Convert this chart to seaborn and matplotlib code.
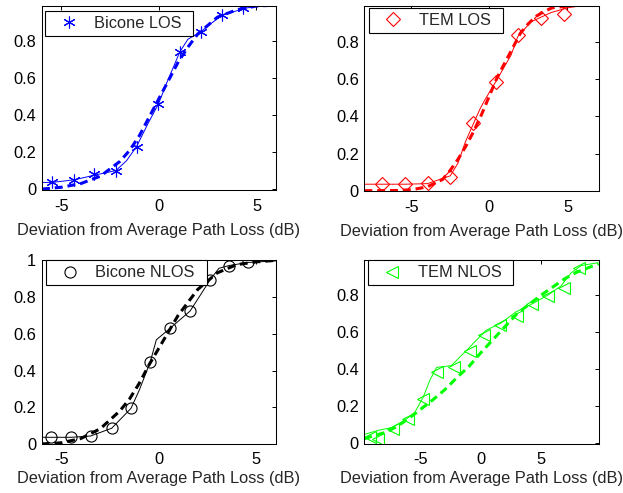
import matplotlib
matplotlib.use("Agg")
import matplotlib.pyplot as plt
import seaborn as sns
from matplotlib.ticker import FormatStrFormatter

# Bicone LOS
bl_line_x = [-6, -5.49, -4.35, -3.32, -2.21, -1.66, -1.15, -0.82, -0.56, -0.03, 0.38, 1.06, 1.48, 2.14, 2.6, 3.23, 4.32, 5, 6]
bl_line_y = [0.036, 0.036, 0.05, 0.075, 0.1, 0.154, 0.23, 0.30, 0.355, 0.46, 0.57, 0.74, 0.81, 0.85, 0.89, 0.94, 0.975, 0.99, 0.99]
bl_mark_x = [-5.49, -4.35, -3.32, -2.21, -1.15, -0.03, 1.06, 2.14, 3.23, 4.32]
bl_mark_y = [0.04, 0.05, 0.08, 0.10, 0.23, 0.46, 0.74, 0.85, 0.94, 0.98]
bl_fit_x = [-6, -5, -4, -3, -2, -1.5, -1, -0.5, 0, 0.5, 1, 1.5, 2, 3, 4, 5, 6]
bl_fit_y = [0.0, 0.01, 0.03, 0.07, 0.15, 0.21, 0.29, 0.39, 0.49, 0.59, 0.69, 0.77, 0.84, 0.93, 0.97, 0.99, 0.995]

# TEM LOS
tl_line_x = [-8, -6.9, -5.38, -3.95, -3.2, -2.5, -2.0, -1.56, -1.13, -0.6, -0.28, 0.43, 1.39, 1.82, 2.67, 3.31, 3.96, 5.0, 5.9, 7]
tl_line_y = [0.035, 0.035, 0.035, 0.038, 0.06, 0.08, 0.15, 0.257, 0.34, 0.44, 0.49, 0.59, 0.73, 0.83, 0.91, 0.935, 0.96, 0.985, 0.998, 1.0]
tl_mark_x = [-6.9, -5.38, -3.95, -2.5, -1.04, 0.45, 1.82, 3.31, 4.81]
tl_mark_y = [0.038, 0.038, 0.04, 0.076, 0.366, 0.586, 0.84, 0.93, 0.953]
tl_fit_x = [-8, -6, -5, -4, -3, -2.5, -2, -1.5, -1, -0.5, 0, 0.5, 1, 1.5, 2, 2.5, 3, 3.5, 4, 5, 6, 7]
tl_fit_y = [0.0, 0.001, 0.005, 0.02, 0.06, 0.11, 0.17, 0.24, 0.32, 0.41, 0.51, 0.61, 0.69, 0.77, 0.85, 0.9, 0.94, 0.965, 0.985, 0.995, 1.0, 1.0]

# Bicone NLOS
bn_line_x = [-6, -5.5, -4.5, -3.49, -2.41, -1.42, -0.99, -0.43, -0.12, 0.59, 1.61, 2.14, 2.62, 3.09, 3.61, 4.6, 6]
bn_line_y = [0.038, 0.038, 0.038, 0.045, 0.087, 0.195, 0.295, 0.448, 0.567, 0.63, 0.723, 0.81, 0.89, 0.955, 0.97, 0.987, 0.995]
bn_mark_x = [-5.5, -4.5, -3.49, -2.41, -1.42, -0.43, 0.59, 1.61, 2.62, 3.61, 4.6]
bn_mark_y = [0.038, 0.038, 0.045, 0.087, 0.195, 0.448, 0.63, 0.723, 0.89, 0.97, 0.987]
bn_fit_x = [-6, -5, -4, -3, -2, -1.5, -1, -0.5, 0, 0.5, 1, 1.5, 2, 3, 4, 5, 6]
bn_fit_y = [0.002, 0.008, 0.031, 0.084, 0.18, 0.245, 0.33, 0.43, 0.52, 0.61, 0.70, 0.77, 0.84, 0.93, 0.975, 0.99, 0.998]

# TEM NLOS
tn_line_x = [-9.67, -8.56, -7.44, -6.33, -5.5, -4.8, -4.25, -3.69, -2.44, -1.75, -1.06, -0.5, 0.06, 0.42, 1.67, 2.92, 4.17, 5.56, 6.67, 7.5, 8.33, 9.7]
tn_line_y = [0.049, 0.07, 0.085, 0.125, 0.167, 0.25, 0.34, 0.41, 0.42, 0.467, 0.51, 0.55, 0.585, 0.61, 0.65, 0.71, 0.75, 0.80, 0.85, 0.92, 0.96, 0.975]
tn_mark_x = [-9.25, -8.58, -7.33, -6.1, -4.83, -3.67, -2.28, -0.89, 0.28, 1.56, 2.97, 4.28, 5.56, 6.9, 8.2]
tn_mark_y = [0.034, 0.025, 0.078, 0.13, 0.24, 0.385, 0.41, 0.50, 0.585, 0.64, 0.685, 0.75, 0.795, 0.84, 0.945]
tn_fit_x = [-9.7, -9, -8, -7, -6, -5, -4, -3, -2, -1, 0, 1, 2, 3, 4, 5, 6, 7, 8, 9, 9.8]
tn_fit_y = [0.025, 0.04, 0.058, 0.09, 0.135, 0.185, 0.235, 0.29, 0.355, 0.415, 0.49, 0.56, 0.63, 0.70, 0.75, 0.80, 0.845, 0.89, 0.925, 0.95, 0.97]

sns.set_style("white")
plt.rcParams['font.family'] = ['Liberation Sans', 'DejaVu Sans']
plt.rcParams['axes.unicode_minus'] = False
FS = 11.8

fig = plt.figure(figsize=(6.23, 4.93), dpi=100)

panels = [
    # rect, line, marks, fit, color, marker, ms, label, xlim, ylim, yticks, legend box, pads
    ([0.0674, 0.6146, 0.3756, 0.3732], (bl_line_x, bl_line_y), (bl_mark_x, bl_mark_y), (bl_fit_x, bl_fit_y),
     (0, 0, 1), (6, 2, 0), 8.5, "Bicone LOS", (-6, 6), (-0.005, 0.99), [0, 0.2, 0.4, 0.6, 0.8],
     (0.011, 0.973, 0.636), (6.5, 6.5)),
    ([0.5848, 0.6132, 0.3762, 0.3746], (tl_line_x, tl_line_y), (tl_mark_x, tl_mark_y), (tl_fit_x, tl_fit_y),
     (1, 0, 0), "D", 7.5, "TEM LOS", (-8, 7), (0, 0.995), [0, 0.2, 0.4, 0.6, 0.8],
     (0.021, 0.988, 0.572), (6.5, 6.5)),
    ([0.0669, 0.0988, 0.3756, 0.3738], (bn_line_x, bn_line_y), (bn_mark_x, bn_mark_y), (bn_fit_x, bn_fit_y),
     (0, 0, 0), "o", 8, "Bicone NLOS", (-6, 6), (0, 1), [0, 0.2, 0.4, 0.6, 0.8, 1],
     (0.017, 0.998, 0.69), (5.5, 3)),
    ([0.5848, 0.0988, 0.3762, 0.3738], (tn_line_x, tn_line_y), (tn_mark_x, tn_mark_y), (tn_fit_x, tn_fit_y),
     (0, 1, 0), "<", 9, "TEM NLOS", (-9.7, 9.8), (-0.005, 0.99), [0, 0.2, 0.4, 0.6, 0.8],
     (0.017, 0.998, 0.619), (5.5, 3)),
]

for rect, line, marks, fit, color, marker, ms, label, xlim, ylim, yticks, lbox, pads in panels:
    ax = fig.add_axes(rect)
    # empirical CDF (thin)
    sns.lineplot(x=line[0], y=line[1], ax=ax, color=color, linewidth=0.7, legend=False)
    # markers only
    sns.lineplot(x=marks[0], y=marks[1], ax=ax, color=color, linestyle="none", marker=marker,
                 markersize=ms, markerfacecolor="none", markeredgecolor=color, markeredgewidth=0.8,
                 legend=False)
    # fitted normal CDF (thick dashed)
    sns.lineplot(x=fit[0], y=fit[1], ax=ax, color=color, linewidth=2.2,
                 linestyle=(0, (2.6, 1.6)), legend=False)

    ax.set_xlim(*xlim)
    ax.set_ylim(*ylim)
    ax.set_xticks([-5, 0, 5])
    ax.set_yticks(yticks)
    ax.yaxis.set_major_formatter(FormatStrFormatter('%g'))
    ax.tick_params(direction="in", length=3, width=0.7, top=True, right=True,
                   labelsize=FS, colors="black")
    ax.tick_params(axis="x", pad=pads[0])
    ax.tick_params(axis="y", pad=4)
    for s in ax.spines.values():
        s.set_color("black")
        s.set_linewidth(0.75)
    ax.set_xlabel("Deviation from Average Path Loss (dB)", fontsize=FS, labelpad=pads[1])
    ax.set_ylabel("")

    x0, top, w = lbox
    leg = ax.legend(handles=[ax.lines[1]], labels=[label], loc="upper left",
                    bbox_to_anchor=(x0, top - 0.3, w, 0.3), mode="expand", fontsize=FS,
                    fancybox=False, framealpha=1, edgecolor="black", borderpad=0.3,
                    handlelength=2.33, handletextpad=0.4, borderaxespad=0)
    leg.get_frame().set_linewidth(0.8)

fig.savefig("out.png", dpi=100)
